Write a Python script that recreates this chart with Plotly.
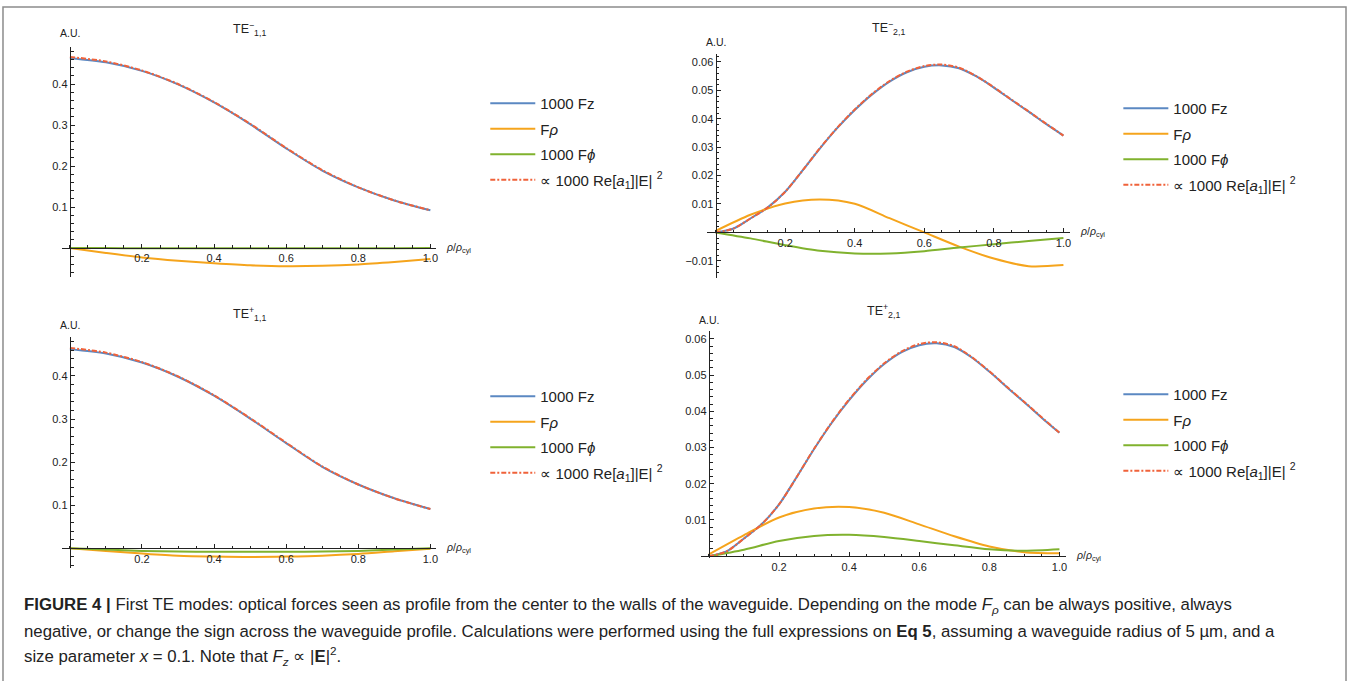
import plotly.graph_objects as go

# ---------------- data ----------------
rho = [0.0, 0.1, 0.2, 0.3, 0.4, 0.5, 0.6, 0.7, 0.8, 0.9, 1.0]
rho_fine = [0.0, 0.05, 0.1, 0.15, 0.2, 0.25, 0.3, 0.35, 0.4, 0.45, 0.5,
            0.55, 0.6, 0.65, 0.7, 0.75, 0.8, 0.85, 0.9, 0.95, 1.0]

# TE-_{1,1}
te1m_fz = [0.463, 0.453, 0.432, 0.399, 0.355, 0.302, 0.243, 0.189, 0.148, 0.116, 0.092]
te1m_frho = [0.0, -0.012, -0.023, -0.031, -0.037, -0.042, -0.0445, -0.0435, -0.040, -0.034, -0.027]
te1m_fphi = [0.0, -0.0003, -0.0006, -0.0008, -0.0009, -0.0009, -0.0009, -0.0008, -0.0006, -0.0004, -0.0003]
te1m_e2 = [0.466, 0.455, 0.433, 0.400, 0.356, 0.303, 0.244, 0.190, 0.148, 0.116, 0.092]

# TE+_{1,1}
te1p_fz = [0.462, 0.452, 0.431, 0.398, 0.354, 0.301, 0.244, 0.189, 0.148, 0.116, 0.091]
te1p_frho = [0.0, -0.006, -0.012, -0.017, -0.019, -0.020, -0.019, -0.017, -0.013, -0.007, -0.001]
te1p_fphi = [0.0, -0.003, -0.006, -0.0075, -0.008, -0.008, -0.008, -0.0075, -0.006, -0.003, 0.0]
te1p_e2 = [0.465, 0.454, 0.432, 0.399, 0.355, 0.302, 0.245, 0.190, 0.148, 0.116, 0.091]

# TE-_{2,1}  (Fz and |E|^2 on the finer grid)
te2m_fz = [0.0, 0.0013, 0.0049, 0.0088, 0.0143, 0.0218, 0.0296, 0.0368, 0.0431, 0.0486, 0.0531,
           0.0564, 0.0583, 0.0588, 0.0578, 0.0549, 0.0510, 0.0467, 0.0425, 0.0382, 0.0341]
te2m_frho = [0.0005, 0.0062, 0.0102, 0.0116, 0.0101, 0.0050, 0.0, -0.0050, -0.0092, -0.0119, -0.0115]
te2m_fphi = [0.0, -0.0021, -0.0045, -0.0065, -0.0074, -0.0074, -0.0066, -0.0053, -0.0042, -0.0030, -0.0020]
te2m_e2 = [0.0, 0.0013, 0.0049, 0.0088, 0.0143, 0.0218, 0.0297, 0.0369, 0.0433, 0.0488, 0.0533,
           0.0566, 0.0586, 0.0591, 0.0580, 0.0550, 0.0511, 0.0468, 0.0426, 0.0383, 0.0341]

# TE+_{2,1}
te2p_fz = [0.0, 0.0013, 0.0049, 0.0088, 0.0143, 0.0218, 0.0296, 0.0368, 0.0431, 0.0486, 0.0531,
           0.0564, 0.0583, 0.0588, 0.0578, 0.0549, 0.0510, 0.0467, 0.0425, 0.0382, 0.0341]
te2p_frho = [0.0005, 0.0058, 0.0107, 0.0132, 0.0136, 0.0120, 0.0088, 0.0055, 0.0027, 0.0011, 0.0008]
te2p_fphi = [0.0, 0.0018, 0.0042, 0.0056, 0.0059, 0.0053, 0.0042, 0.0030, 0.0019, 0.0015, 0.0019]
te2p_e2 = [0.0, 0.0013, 0.0049, 0.0088, 0.0143, 0.0218, 0.0297, 0.0369, 0.0433, 0.0488, 0.0533,
           0.0566, 0.0586, 0.0591, 0.0580, 0.0550, 0.0511, 0.0468, 0.0426, 0.0383, 0.0341]

series_names = ["1000 Fz", "F<i>ρ</i>", "1000 F<i>ϕ</i>",
                "∝ 1000 Re[<i>a</i><sub>1</sub>]|E| <sup>2</sup>"]
panel_titles = ["TE<sup>−</sup><sub>1,1</sub>", "TE<sup>−</sup><sub>2,1</sub>",
                "TE<sup>+</sup><sub>1,1</sub>", "TE<sup>+</sup><sub>2,1</sub>"]
x_tickvals = [0.2, 0.4, 0.6, 0.8, 1.0]
x_ticktext = ["0.2", "0.4", "0.6", "0.8", "1.0"]
y_tickvals_big = [0.1, 0.2, 0.3, 0.4]
y_tickvals_small_neg = [-0.01, 0.01, 0.02, 0.03, 0.04, 0.05, 0.06]
y_tickvals_small = [0.01, 0.02, 0.03, 0.04, 0.05, 0.06]

panels_data = [
    ((rho, te1m_fz), (rho, te1m_frho), (rho, te1m_fphi), (rho, te1m_e2)),
    ((rho_fine, te2m_fz), (rho, te2m_frho), (rho, te2m_fphi), (rho_fine, te2m_e2)),
    ((rho, te1p_fz), (rho, te1p_frho), (rho, te1p_fphi), (rho, te1p_e2)),
    ((rho_fine, te2p_fz), (rho, te2p_frho), (rho, te2p_fphi), (rho_fine, te2p_e2)),
]

# ---------------- style / layout ----------------
W, H = 1351, 681
FONT = "Liberation Sans, Arial, sans-serif"
colors = ["#5b88c2", "#f5a41c", "#80b22e", "#f0623a"]
INK = "#222222"

# pixel geometry: (px of x=0, px of x=1, x range, px of y=0, px per unit y, y range)
geom = [
    (70.0, 431.0, [-0.022, 1.017], 248.0, 410.0, [-0.071, 0.49]),
    (716.7, 1065.0, [-0.024, 1.019], 232.4, 2840.0, [-0.0162, 0.0628]),
    (70.0, 431.0, [-0.022, 1.017], 548.3, 431.0, [-0.046, 0.49]),
    (710.0, 1061.0, [-0.024, 1.02], 556.2, 3620.0, [-0.0004, 0.0622]),
]
ytickvals = [y_tickvals_big, y_tickvals_small_neg, y_tickvals_big, y_tickvals_small]
yminor = [0.02, 0.002, 0.02, 0.002]
# (title y px, A.U. y px, legend x px, legend top px)
decor = [
    (29, 33, 486, 87),
    (28, 42, 1120, 92),
    (314, 325, 486, 380),
    (311, 320, 1120, 378),
]

fig = go.Figure()
layout = {}
annotations = []

for i in range(4):
    x0px, x1px, xr, y0px, ys, yr = geom[i]
    xs = x1px - x0px
    dl = x0px + xr[0] * xs
    dr = x0px + xr[1] * xs
    dt = y0px - yr[1] * ys
    db = y0px - yr[0] * ys
    sfx = "" if i == 0 else str(i + 1)
    xa, ya = "x" + sfx, "y" + sfx
    lg = "legend" + sfx

    layout["xaxis" + sfx] = dict(
        domain=[dl / W, dr / W], range=xr, anchor="free", position=(H - y0px) / H,
        showgrid=False, zeroline=False, showline=True, linecolor=INK, linewidth=1.3,
        ticks="inside", ticklen=4, tickwidth=1, tickcolor=INK,
        tickmode="array", tickvals=x_tickvals, ticktext=x_ticktext,
        minor=dict(tickmode="linear", tick0=0, dtick=0.05, ticks="inside",
                   ticklen=2.5, tickwidth=1, tickcolor=INK),
        tickfont=dict(family=FONT, size=11, color=INK), fixedrange=True,
    )
    layout["yaxis" + sfx] = dict(
        domain=[(H - db) / H, (H - dt) / H], range=yr, anchor="free", position=x0px / W,
        showgrid=False, zeroline=False, showline=True, linecolor=INK, linewidth=1.3,
        ticks="inside", ticklen=4, tickwidth=1, tickcolor=INK,
        tickmode="array", tickvals=ytickvals[i],
        minor=dict(tickmode="linear", tick0=0, dtick=yminor[i], ticks="inside",
                   ticklen=2.5, tickwidth=1, tickcolor=INK),
        tickfont=dict(family=FONT, size=11, color=INK), fixedrange=True,
    )

    tpx, aupx, lxpx, lypx = decor[i]
    layout[lg] = dict(
        x=lxpx / W, y=(H - lypx) / H, xanchor="left", yanchor="top",
        bgcolor="rgba(0,0,0,0)", borderwidth=0, itemwidth=45,
        tracegroupgap=3, font=dict(family=FONT, size=15, color=INK),
        traceorder="grouped",
    )

    for k, (xv, vals) in enumerate(panels_data[i]):
        fig.add_trace(go.Scatter(
            x=xv, y=vals, mode="lines", name=series_names[k],
            line=dict(color=colors[k], width=2, shape="spline", smoothing=0.8,
                      dash="5px,2px,2px,2px" if k == 3 else "solid"),
            xaxis=xa, yaxis=ya, legend=lg, legendgroup=f"p{i}s{k}",
            hoverinfo="skip",
        ))

    annotations.append(dict(text=panel_titles[i], xref="paper", yref="paper",
                            x=((dl + dr) / 2) / W, y=(H - tpx) / H,
                            xanchor="center", yanchor="middle", showarrow=False,
                            font=dict(family=FONT, size=12.5, color=INK)))
    annotations.append(dict(text="A.U.", xref="paper", yref="paper",
                            x=x0px / W, y=(H - aupx) / H,
                            xanchor="center", yanchor="middle", showarrow=False,
                            font=dict(family=FONT, size=10.5, color=INK)))
    annotations.append(dict(text="<i>ρ</i>/<i>ρ</i><sub>cyl</sub>", xref="paper", yref="paper",
                            x=(dr + 8) / W, y=(H - y0px) / H,
                            xanchor="left", yanchor="middle", showarrow=False,
                            font=dict(family=FONT, size=10.5, color=INK)))

caption_lines = [
    "<b>FIGURE 4 |</b> First TE modes: optical forces seen as profile from the center to the walls of the "
    "waveguide. Depending on the mode <i>F</i><sub><i>ρ</i></sub> can be always positive, always",
    "negative, or change the sign across the waveguide profile. Calculations were performed using the full "
    "expressions on <b>Eq 5</b>, assuming a waveguide radius of 5 µm, and a",
    "size parameter <i>x</i> = 0.1. Note that <i>F</i><sub><i>z</i></sub> ∝ |<b>E</b>|<sup>2</sup>.",
]
caption_y = [605, 631, 656]
for line, ypx in zip(caption_lines, caption_y):
    annotations.append(dict(text=line, xref="paper", yref="paper", x=22 / W, y=(H - ypx) / H,
                            xanchor="left", yanchor="middle", showarrow=False, align="left",
                            font=dict(family=FONT, size=16.8, color="#222222")))

layout["annotations"] = annotations
layout["shapes"] = [dict(type="rect", xref="paper", yref="paper",
                         x0=3 / W, x1=1348 / W, y0=-0.1, y1=(H - 7) / H,
                         line=dict(color="#8c8c8c", width=1.5), fillcolor="rgba(0,0,0,0)")]

fig.update_layout(**layout)
fig.update_layout(width=W, height=H, margin=dict(l=0, r=0, t=0, b=0),
                  paper_bgcolor="white", plot_bgcolor="white", showlegend=True,
                  font=dict(family=FONT, color=INK))

fig.write_html("out.html", config={"displayModeBar": False})
